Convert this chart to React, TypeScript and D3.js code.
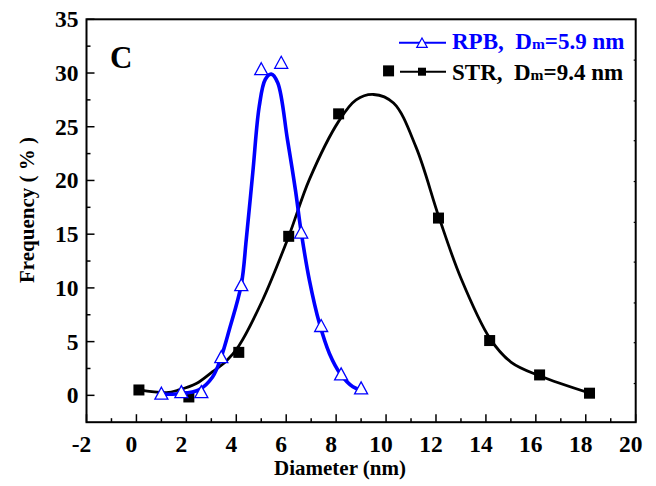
import React from 'react';
import * as d3 from 'd3';

// ---- data ----
const rpbX = [1.0, 1.8, 2.6, 3.4, 4.2, 5.0, 5.8, 6.6, 7.4, 8.2, 9.0];
const rpbY = [0.2, 0.35, 0.35, 3.6, 10.3, 30.4, 31.0, 15.2, 6.5, 2.0, 0.7];

const strX = [0.1, 2.1, 4.1, 6.1, 8.1, 10.1, 12.1, 14.15, 16.15, 18.15];
const strY = [0.5, -0.15, 4.0, 14.8, 26.2, 30.2, 16.5, 5.1, 1.9, 0.2];

// fitted curves
const rpbFitX = [0.95, 1.7, 2.5, 3.05, 3.4, 3.72, 4.2, 4.4, 4.66, 4.92, 5.16, 5.4, 5.66, 6.05, 6.37, 6.6, 6.93, 7.33, 7.73, 8.17, 8.67, 9.0];
const rpbFitY = [0.1, 0.15, 0.5, 1.7, 3.6, 6.1, 10.3, 14.5, 20.7, 26.9, 29.4, 29.9, 29.1, 23.8, 19.1, 15.2, 10.7, 6.7, 3.9, 2.0, 0.8, 0.5];

const strFitX = [0.1, 1.2, 1.7, 2.4, 3.05, 3.6, 4.1, 5.06, 6.1, 6.93, 8.1, 8.8, 9.5, 10.3, 11.2, 12.13, 13.0, 14.16, 15.0, 16.17, 18.17];
const strFitY = [0.5, 0.25, 0.5, 1.1, 2.2, 3.2, 4.6, 8.9, 14.8, 20.1, 25.5, 27.5, 28.0, 27.2, 23.1, 16.5, 10.9, 5.3, 3.1, 1.8, 0.2];

const xMajor = [-2, 0, 2, 4, 6, 8, 10, 12, 14, 16, 18, 20];
const xMinor = [-1, 1, 3, 5, 7, 9, 11, 13, 15, 17, 19];
const yMajor = [0, 5, 10, 15, 20, 25, 30, 35];
const yMinor = [2.5, 7.5, 12.5, 17.5, 22.5, 27.5, 32.5];
const yRightTicks = [1.1, 4.9, 8.6, 12.4, 16.1, 19.9, 23.7, 27.4, 31.2];

const rpbLabel = { name: 'RPB,  D', sub: 'm', rest: '=5.9 nm' };
const strLabel = { name: 'STR,  D', sub: 'm', rest: '=9.4 nm' };

const BLUE = '#0000FF';
const FONT = '"Liberation Serif", "Times New Roman", serif';

const W = 656;
const H = 486;

const triPath = (cx: number, cy: number, w: number, h: number) =>
  `M${cx},${cy - h / 2}L${cx + w / 2},${cy + h / 2}L${cx - w / 2},${cy + h / 2}Z`;

export default function App() {
  const x = d3.scaleLinear().domain([-2, 20]).range([86.5, 635.7]);
  const y = d3.scaleLinear().domain([-2.5, 35]).range([422.2, 19.3]);

  const line = d3
    .line<[number, number]>()
    .x((d) => x(d[0]))
    .y((d) => y(d[1]))
    .curve(d3.curveCatmullRom.alpha(0.5));

  const rpbFit: [number, number][] = rpbFitX.map((v, i) => [v, rpbFitY[i]]);
  const strFit: [number, number][] = strFitX.map((v, i) => [v, strFitY[i]]);

  const x0 = x.range()[0];
  const x1 = x.range()[1];
  const yb = y.range()[0];
  const yt = y.range()[1];

  const sq = 11;
  const legSq = 8;

  return (
    <svg
      width={W}
      height={H}
      style={{ position: 'absolute', left: 0, top: 0, background: '#fff' }}
      fontFamily={FONT}
    >
      <rect x={0} y={0} width={W} height={H} fill="#fff" />

      {/* curves */}
      <path d={line(strFit) || ''} fill="none" stroke="#000" strokeWidth={2.8} />
      {strX.map((v, i) => (
        <rect key={'s' + i} x={x(v) - sq / 2} y={y(strY[i]) - sq / 2} width={sq} height={sq} fill="#000" />
      ))}
      <path d={line(rpbFit) || ''} fill="none" stroke={BLUE} strokeWidth={3.6} />
      {rpbX.map((v, i) => (
        <path key={'r' + i} d={triPath(x(v), y(rpbY[i]), 13, 12)} fill="#fff" stroke={BLUE} strokeWidth={1.3} />
      ))}

      {/* frame */}
      <rect x={x0} y={yt} width={x1 - x0} height={yb - yt} fill="none" stroke="#000" strokeWidth={2} />

      {/* x ticks */}
      {xMajor.map((v) => (
        <line key={'xm' + v} x1={x(v)} x2={x(v)} y1={yb} y2={yb - 8} stroke="#000" strokeWidth={1.5} />
      ))}
      {xMinor.map((v) => (
        <line key={'xn' + v} x1={x(v)} x2={x(v)} y1={yb} y2={yb - 4} stroke="#000" strokeWidth={1.5} />
      ))}
      {xMajor.map((v) => (
        <text key={'xl' + v} x={x(v) - 5} y={452} textAnchor="middle" fontSize={23.5} fontWeight="bold">
          {v}
        </text>
      ))}

      {/* y ticks */}
      {yMajor.map((v) => (
        <line key={'ym' + v} x1={x0} x2={x0 + 8} y1={y(v)} y2={y(v)} stroke="#000" strokeWidth={1.5} />
      ))}
      {yMinor.map((v) => (
        <line key={'yn' + v} x1={x0} x2={x0 + 4} y1={y(v)} y2={y(v)} stroke="#000" strokeWidth={1.5} />
      ))}
      {yRightTicks.map((v) => (
        <line key={'yr' + v} x1={x1} x2={x1 - 2} y1={y(v)} y2={y(v)} stroke="#000" strokeWidth={1.2} />
      ))}
      {yMajor.map((v) => (
        <text key={'yl' + v} x={x0 - 8} y={y(v) + 8} textAnchor="end" fontSize={23.5} fontWeight="bold">
          {v}
        </text>
      ))}

      {/* axis titles */}
      <text x={340} y={475} textAnchor="middle" fontSize={21} fontWeight="bold">
        Diameter (nm)
      </text>
      <text
        transform="translate(34,210) rotate(-90)"
        textAnchor="middle"
        fontSize={21}
        fontWeight="bold"
        style={{ whiteSpace: 'pre' }}
      >
        {'Frequency ( % )'}
      </text>

      {/* panel label */}
      <text x={110} y={68} fontSize={31} fontWeight="bold">
        C
      </text>

      {/* legend */}
      <line x1={399} x2={446} y1={42.7} y2={42.7} stroke={BLUE} strokeWidth={2} />
      <path d={triPath(422, 42.7, 10.5, 9.5)} fill="#fff" stroke={BLUE} strokeWidth={1.2} />
      <text x={452} y={49} fontSize={23} fontWeight="bold" fill={BLUE} style={{ whiteSpace: 'pre' }}>
        {rpbLabel.name}
        <tspan fontSize={15.5}>{rpbLabel.sub}</tspan>
        {rpbLabel.rest}
      </text>

      <line x1={400} x2={446} y1={71.7} y2={71.7} stroke="#000" strokeWidth={2} />
      <rect x={422 - legSq / 2} y={71.7 - legSq / 2} width={legSq} height={legSq} fill="#000" />
      <text x={452} y={80} fontSize={23} fontWeight="bold" fill="#000" style={{ whiteSpace: 'pre' }}>
        {strLabel.name}
        <tspan fontSize={15.5}>{strLabel.sub}</tspan>
        {strLabel.rest}
      </text>
    </svg>
  );
}
